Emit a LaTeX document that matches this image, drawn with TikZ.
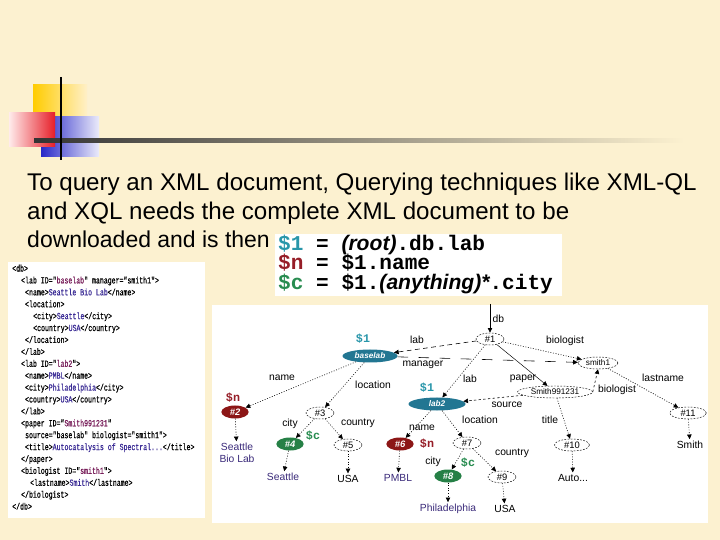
\documentclass[tikz,border=0pt]{standalone}
\usepackage{fontspec}
\setmainfont{Liberation Sans}
\newfontfamily\xmlfont[FakeStretch=0.7,FakeBold=0.6]{Liberation Mono}
\newfontfamily\codefont{Liberation Mono}
\newfontfamily\qsansfont{Liberation Sans}
\usetikzlibrary{shapes.geometric,arrows.meta}
\definecolor{slidebg}{RGB}{252,241,208}
\definecolor{tealv}{RGB}{34,118,146}
\definecolor{tealtxt}{RGB}{40,150,170}
\definecolor{redv}{RGB}{140,22,22}
\definecolor{redtxt}{RGB}{150,30,40}
\definecolor{greenv}{RGB}{38,128,70}
\definecolor{greentxt}{RGB}{40,140,80}
\definecolor{leafblue}{RGB}{58,42,122}
\definecolor{xmlval}{RGB}{120,30,90}
\definecolor{xmltxt}{RGB}{60,45,150}
\newcommand\xv[1]{\textcolor{xmlval}{#1}}
\newcommand\xt[1]{\textcolor{xmltxt}{#1}}
\newcommand\qit[1]{{\qsansfont\bfseries\itshape\fontsize{18}{20}\selectfont #1}}
\tikzset{
  >={Triangle[length=4pt,width=3.8pt]},
  hollow/.style={ellipse,draw,dash pattern=on 1.5pt off 1.2pt,line width=0.4pt,inner sep=0pt,
    minimum width=0.84cm,minimum height=0.36cm,font=\fontsize{8}{9}\selectfont},
  tealnode/.style={ellipse,fill=tealv,inner sep=0pt,minimum width=1.65cm,minimum height=0.39cm,
    text=white,font=\fontsize{7}{8}\selectfont\bfseries\itshape},
  rednode/.style={ellipse,fill=redv,inner sep=0pt,minimum width=0.82cm,minimum height=0.39cm,
    text=white,font=\fontsize{8}{9}\selectfont\bfseries\itshape},
  greennode/.style={rednode,fill=greenv},
  leaf/.style={inner sep=1.5pt,text=leafblue,font=\fontsize{8.8}{10.2}\selectfont},
  lbl/.style={inner sep=0pt,font=\fontsize{8.8}{10}\selectfont},
  var/.style={inner sep=0pt,font=\codefont\bfseries\fontsize{10}{11}\selectfont},
  dotlnk/.style={line width=0.5pt,dash pattern=on 0.8pt off 1.4pt},
  dashlnk/.style={line width=0.5pt,dash pattern=on 4pt off 3pt},
  longdash/.style={line width=0.5pt,dash pattern=on 9pt off 9pt},
  fine/.style={line width=0.5pt,dash pattern=on 2pt off 2pt},
  title/.style={inner sep=0pt,anchor=base west,font=\fontsize{20.6}{24}\selectfont},
  query/.style={inner sep=0pt,anchor=base west,font=\codefont\bfseries\fontsize{18}{20}\selectfont}
}
\begin{document}
\begin{tikzpicture}[x=0.03cm,y=-0.03cm]
\useasboundingbox(0,0)rectangle(720,540);
\fill[slidebg](0,0)rectangle(720,540);
\shade[left color={rgb,255:red,255;green,204;blue,0},right color={rgb,255:red,255;green,240;blue,200}](33,85)rectangle(87,125);
\shade[left color={rgb,255:red,40;green,40;blue,200},right color={rgb,255:red,235;green,235;blue,250}](41,117)rectangle(99,157);
\shade[left color={rgb,255:red,255;green,235;blue,235},right color={rgb,255:red,230;green,30;blue,40}](9,113)rectangle(55,147);
\shade[left color=black!80,right color=slidebg](34,139)rectangle(684,143);
\draw[line width=1.5pt](61,77)--(61,160);
\node(t1)[title]at(27,191){To query an XML document, Querying techniques like XML-QL};
\node(t2)[title]at(27,219.5){and XQL needs the complete XML document to be};
\node(t3)[title,font=\fontsize{19.6}{24}\selectfont]at(27,248){downloaded and is then};
\fill[white](275,234)rectangle(562,296);
\node(q1)[query]at(278,250.5){\textcolor{tealtxt}{\$1} = \qit{(root)}.db.lab};
\node(q2)[query]at(278,270){\textcolor{redtxt}{\$n} = \$1.name};
\node(q3)[query]at(278,289.5){\textcolor{greentxt}{\$c} = \$1.\qit{(anything)*}.city};
\fill[white](8,262)rectangle(205,518);
\node(xml)[anchor=north west,align=left,inner sep=0pt,font=\xmlfont\fontsize{8}{10.16}\selectfont]at(12,264.5){%
<db>\\
\hspace*{7.6pt}<lab ID="\xv{baselab}" manager="smith1">\\
\hspace*{11pt}<name>\xt{Seattle Bio Lab}</name>\\
\hspace*{11pt}<location>\\
\hspace*{17.9pt}<city>\xt{Seattle}</city>\\
\hspace*{17.9pt}<country>\xt{USA}</country>\\
\hspace*{11pt}</location>\\
\hspace*{7.6pt}</lab>\\
\hspace*{7.6pt}<lab ID="\xv{lab2}">\\
\hspace*{11pt}<name>\xt{PMBL}</name>\\
\hspace*{11pt}<city>\xt{Philadelphia}</city>\\
\hspace*{11pt}<country>\xt{USA}</country>\\
\hspace*{7.6pt}</lab>\\
\hspace*{7.6pt}<paper ID="\xv{Smith991231}"\\
\hspace*{11pt}source="baselab" biologist="smith1">\\
\hspace*{11pt}<title>\xt{Autocatalysis of Spectral...}</title>\\
\hspace*{7.6pt}</paper>\\
\hspace*{7.6pt}<biologist ID="\xv{smith1}">\\
\hspace*{15.3pt}<lastname>\xt{Smith}</lastname>\\
\hspace*{7.6pt}</biologist>\\
</db>};
\fill[white](212,305)rectangle(708,523);
\coordinate(dbtop)at(490,304);
\node(1)[hollow]at(490,339){\#1};
\node(baselab)[tealnode]at(370,356){baselab};
\node(smith1)[hollow,minimum width=1.2cm,font=\fontsize{7}{8}\selectfont]at(598,363){smith1};
\node(lab2)[tealnode,minimum width=1.71cm]at(437,404){lab2};
\node(smith991231)[hollow,minimum width=2.25cm,font=\fontsize{7}{8}\selectfont]at(555,392){Smith991231};
\node(2)[rednode]at(235,412){\#2};
\node(3)[hollow]at(320,413){\#3};
\node(4)[greennode]at(290,444){\#4};
\node(5)[hollow]at(348,445){\#5};
\node(6)[rednode]at(400,444){\#6};
\node(7)[hollow]at(467,443){\#7};
\node(8)[greennode]at(448,476){\#8};
\node(9)[hollow]at(502,477){\#9};
\node(10)[hollow,minimum width=1.05cm]at(572,445){\#10};
\node(11)[hollow,minimum width=1.1cm]at(688,413){\#11};
\node(seabio)[leaf,align=center]at(237,453){Seattle\\Bio Lab};
\node(seattle)[leaf]at(283,477){Seattle};
\node(usa1)[leaf,text=black]at(348,479){USA};
\node(pmbl)[leaf]at(398,478){PMBL};
\node(phila)[leaf]at(448,509){Philadelphia};
\node(usa2)[leaf,text=black]at(505,509){USA};
\node(auto)[leaf,text=black]at(573,478){Auto...};
\node(smith)[leaf,text=black]at(690,445){Smith};
\node(v1a)[var,text=tealtxt]at(363,339){\$1};
\node(v1b)[var,text=tealtxt]at(427,388){\$1};
\node(vna)[var,text=redtxt]at(233,398){\$n};
\node(vnb)[var,text=redtxt]at(427,444){\$n};
\node(vca)[var,text=greentxt]at(313,436){\$c};
\node(vcb)[var,text=greentxt]at(468,463){\$c};
\draw[->,line width=0.6pt](dbtop)--(1)node[lbl,pos=0.5,right=2pt]{db};
\draw[->,dashlnk](1)--(baselab);
\draw[->,dotlnk](1)--(smith1);
\draw[->,longdash](baselab)--(smith1);
\draw[->,dotlnk](1)--(lab2);
\draw[->,line width=0.4pt](1)--(smith991231);
\draw[->,fine](smith991231.east)--(smith1.south);
\draw[->,fine](smith991231)--(lab2);
\draw[->,dotlnk](smith991231)--(10);
\draw[->,dotlnk](smith1)--(11);
\draw[->,dotlnk](baselab)--(2);
\draw[->,dotlnk](baselab)--(3);
\draw[->,dotlnk](3)--(4);
\draw[->,dotlnk](3)--(5);
\draw[->,dotlnk](lab2)--(6);
\draw[->,dotlnk](lab2)--(7);
\draw[->,dotlnk](7)--(8);
\draw[->,dotlnk](7)--(9);
\draw[->,dotlnk](2)--(seabio);
\draw[->,dotlnk](4)--(seattle);
\draw[->,dotlnk](5)--(usa1);
\draw[->,dotlnk](6)--(pmbl);
\draw[->,dotlnk](8)--(phila);
\draw[->,dotlnk](9)--(usa2);
\draw[->,dotlnk](10)--(auto);
\draw[->,dotlnk](11)--(smith);
\node(l1)[lbl]at(417,340){lab};
\node(l2)[lbl]at(565,341){biologist};
\node(l3)[lbl]at(423,365){manager};
\node(l4)[lbl]at(470,379){lab};
\node(l5)[lbl]at(523,379){paper};
\node(l6)[lbl]at(617,390){biologist};
\node(l7)[lbl]at(507,405){source};
\node(l8)[lbl]at(663,378){lastname};
\node(l9)[lbl]at(282,378){name};
\node(l10)[lbl]at(373,385){location};
\node(l11)[lbl]at(480,420){location};
\node(l12)[lbl]at(422,428){name};
\node(l13)[lbl]at(550,420){title};
\node(l14)[lbl]at(290,424){city};
\node(l15)[lbl]at(358,423){country};
\node(l16)[lbl]at(433,462){city};
\node(l17)[lbl]at(512,453){country};
\end{tikzpicture}
\end{document}
